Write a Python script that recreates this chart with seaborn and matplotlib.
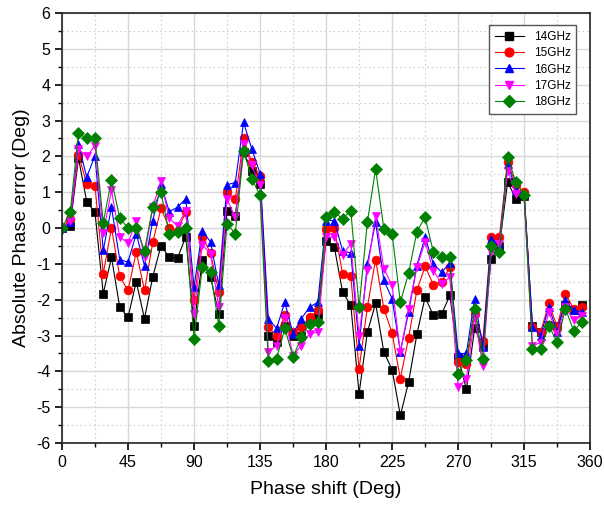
import numpy as np
import pandas as pd
import matplotlib
matplotlib.use("Agg")
import matplotlib.pyplot as plt
import seaborn as sns
from matplotlib.ticker import MultipleLocator

phase = [i * 5.625 for i in range(64)]

err_14 = [0.0, 0.07, 1.95, 0.74, 0.44, -1.83, -0.82, -2.21, -2.49, -1.5, -2.53,
          -1.36, -0.49, -0.82, -0.84, -0.24, -2.72, -0.9, -1.37, -2.39, 0.49, 0.35,
          2.12, 1.6, 1.24, -3.0, -3.19, -2.72, -3.0, -3.0, -2.58, -2.44, -0.35,
          -0.53, -1.78, -2.16, -4.62, -2.91, -2.1, -3.46, -3.95, -5.23, -4.3, -2.97,
          -1.93, -2.44, -2.4, -1.88, -3.6, -4.5, -2.8, -3.3, -0.86, -0.5, 1.28,
          0.82, 0.9, -2.72, -2.9, -2.7, -2.72, -2.15, -2.3, -2.16]
err_15 = [0.0, 0.25, 2.05, 1.24, 1.18, -1.27, 0.0, -1.35, -1.74, -0.67, -1.74,
          -0.4, 0.55, 0.0, -0.07, 0.45, -2.02, -0.24, -0.7, -1.79, 1.02, 0.8,
          2.5, 1.84, 1.45, -2.77, -3.0, -2.44, -2.9, -2.77, -2.49, -2.3, -0.04,
          -0.01, -1.27, -1.35, -3.93, -2.21, -0.88, -2.25, -2.93, -4.2, -3.07, -1.74,
          -1.07, -1.58, -1.5, -1.09, -3.74, -3.79, -2.4, -3.14, -0.25, -0.25, 1.85,
          1.2, 1.0, -2.75, -2.9, -2.1, -2.75, -1.83, -2.25, -2.2]
err_16 = [0.0, 0.18, 2.35, 1.42, 2.02, -0.62, 0.58, -0.88, -0.95, -0.16, -1.05,
          0.2, 1.22, 0.46, 0.58, 0.82, -1.65, -0.07, -0.39, -1.6, 1.21, 1.27,
          2.95, 2.21, 1.52, -2.53, -2.8, -2.07, -2.95, -2.53, -2.21, -2.07, 0.21,
          0.21, -0.63, -0.7, -3.28, -1.0, 0.16, -1.46, -1.97, -3.45, -2.35, -1.05,
          -0.25, -1.0, -1.23, -0.98, -3.5, -3.5, -1.97, -3.33, -0.3, -0.44, 1.8,
          1.05, 0.95, -2.75, -3.0, -2.2, -2.9, -2.02, -2.3, -2.35]
err_17 = [0.0, 0.2, 2.2, 2.0, 2.3, -0.15, 1.05, -0.25, -0.42, 0.2, -0.8,
          0.6, 1.3, 0.27, 0.07, 0.49, -2.39, -0.47, -0.72, -2.21, 0.8, 0.3,
          2.36, 1.75, 1.19, -3.47, -3.28, -2.5, -3.56, -3.28, -2.95, -2.9, -0.25,
          -0.26, -0.74, -0.44, -3.0, -1.18, 0.35, -1.13, -1.6, -3.47, -2.25, -1.09,
          -0.39, -1.19, -1.56, -1.37, -4.44, -4.2, -2.5, -3.84, -0.67, -0.45, 1.6,
          0.96, 0.85, -3.28, -3.2, -2.35, -2.95, -2.2, -2.58, -2.45]
err_18 = [0.0, 0.44, 2.65, 2.5, 2.5, 0.15, 1.35, 0.28, 0.0, 0.0, -0.63,
          0.58, 1.0, -0.16, -0.1, 0.0, -3.09, -1.09, -1.23, -2.72, 0.12, -0.16,
          2.16, 1.38, 0.91, -3.7, -3.65, -2.8, -3.6, -3.05, -2.67, -2.61, 0.32,
          0.44, 0.26, 0.49, -2.21, 0.16, 1.65, -0.02, -0.16, -2.07, -1.26, -0.1,
          0.3, -0.67, -0.81, -0.81, -4.07, -3.67, -2.25, -3.65, -0.49, -0.67, 1.98,
          1.28, 0.91, -3.37, -3.37, -2.72, -3.19, -2.25, -2.86, -2.63]

labels = ["14GHz", "15GHz", "16GHz", "17GHz", "18GHz"]
series = [err_14, err_15, err_16, err_17, err_18]
colors = ["#000000", "#FF0000", "#0000FF", "#FF00FF", "#008000"]
markers = ["s", "o", "^", "v", "D"]

df = pd.concat([pd.DataFrame({"phase": phase, "err": s, "freq": l})
                for s, l in zip(series, labels)], ignore_index=True)

plt.rcParams["font.family"] = ["Liberation Sans", "DejaVu Sans"]
plt.rcParams["axes.unicode_minus"] = False

fig = plt.figure(figsize=(6.04, 5.11), dpi=100)
ax = fig.add_axes([0.1026, 0.133, 0.8745, 0.8414])

sns.lineplot(data=df, x="phase", y="err", hue="freq", style="freq",
             palette=colors, markers=markers, dashes=False, markersize=6.3,
             linewidth=0.8, errorbar=None, sort=False, ax=ax, legend=False)
for ln in ax.lines:
    ln.set_markeredgecolor(ln.get_color())
    ln.set_markeredgewidth(0.5)

ax.set_xlim(0, 360)
ax.set_ylim(-6, 6)
ax.xaxis.set_major_locator(MultipleLocator(45))
ax.xaxis.set_minor_locator(MultipleLocator(22.5))
ax.yaxis.set_major_locator(MultipleLocator(1))
ax.yaxis.set_minor_locator(MultipleLocator(0.5))
ax.grid(True, which="major", color="#d8d8d8", linewidth=1.0, linestyle="-")
ax.grid(True, which="minor", color="#cfcfcf", linewidth=0.8, linestyle=(0, (1.5, 2.5)))
ax.set_axisbelow(True)
ax.tick_params(which="major", direction="out", length=5, width=1.2, labelsize=11.5,
               top=False, right=False)
ax.tick_params(which="minor", direction="out", length=3, width=1.0,
               top=False, right=False)
for sp in ax.spines.values():
    sp.set_linewidth(1.2)
    sp.set_color("#222222")

ax.set_xlabel("Phase shift (Deg)", fontsize=14, labelpad=8)
ax.set_ylabel("Absolute Phase error (Deg)", fontsize=14, labelpad=4)

handles = [plt.Line2D([0], [0], color=c, marker=m, markersize=6.3, linewidth=0.8,
                      markeredgecolor=c) for c, m in zip(colors, markers)]
leg = ax.legend(handles, labels, loc="upper right", fontsize=8.5, fancybox=False,
                framealpha=1, edgecolor="#555555", borderpad=0.5, handlelength=2.5,
                labelspacing=0.35, bbox_to_anchor=(0.985, 0.985))
leg.get_frame().set_linewidth(1.0)

fig.savefig("out.png", dpi=100)
